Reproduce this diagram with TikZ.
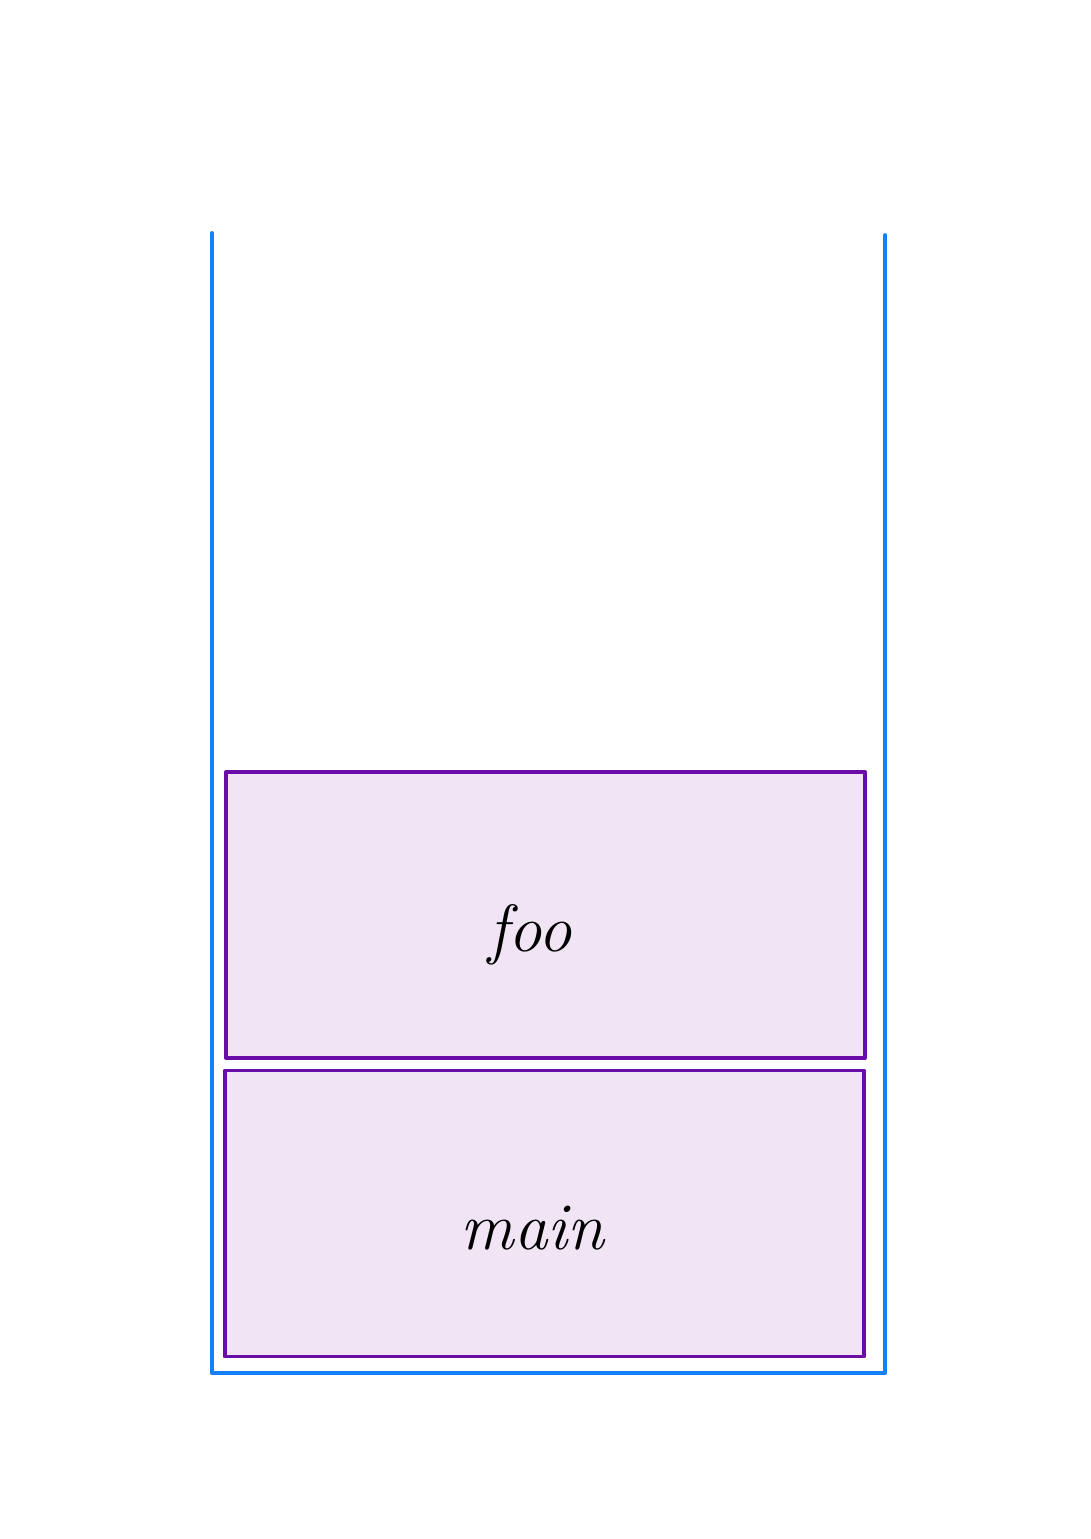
\documentclass[tikz,border=0pt]{standalone}
\usepackage{tikz}
\definecolor{stackblue}{RGB}{20,128,250}
\definecolor{framepurple}{RGB}{106,13,168}
\definecolor{framefill}{RGB}{240,228,245}
\begin{document}
\begin{tikzpicture}[x=0.01cm, y=0.01cm]
\tikzset{
  frame/.style={draw=framepurple, fill=framefill, line width=1pt, line join=round,
    minimum width=6.39cm, minimum height=2.86cm, inner sep=0pt},
  framelabel/.style={inner sep=0pt, font=\fontsize{19}{22}\selectfont\itshape}
}
\useasboundingbox (0,0) rectangle (1090,-1539);
% the stack
\coordinate (tl) at (212,-233);
\coordinate (tr) at (885,-235);
\draw [stackblue, line width=1.1pt, line cap=round, line join=round]
  (tl) -- (212,-1373) -- (885,-1373) -- (tr);
% frames
\node [frame] (foo) at (545.5,-915) {};
\node [framelabel] at ([xshift=-0.15cm, yshift=-0.2cm]foo.center) {foo};
\node [frame] (main) at (544.5,-1213.5) {};
\node [framelabel] at ([xshift=-0.12cm, yshift=-0.15cm]main.center) {main};
\end{tikzpicture}
\end{document}
